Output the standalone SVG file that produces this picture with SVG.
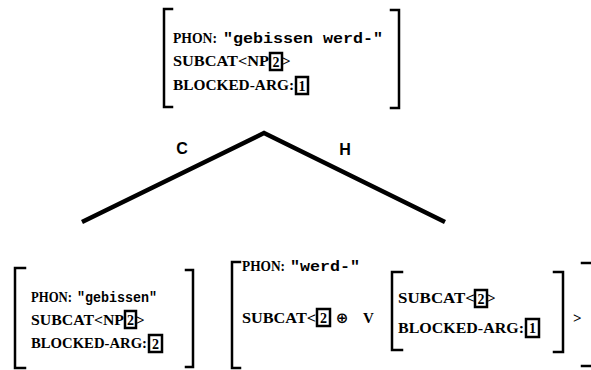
<svg xmlns="http://www.w3.org/2000/svg" width="591" height="370" viewBox="0 0 591 370">
<style>
.br{fill:none;stroke:#000;stroke-width:2.5;stroke-linecap:square}
.t{font-family:"Liberation Serif",serif;font-weight:bold;font-size:15px;fill:#000}
.m{font-family:"Liberation Mono",monospace;font-weight:bold;font-size:14px;fill:#000}
.bx{fill:#fff;stroke:#000;stroke-width:2.5}
.n{font-family:"Liberation Serif",serif;font-weight:bold;font-size:14px;fill:#000;text-anchor:middle}
.lab{font-family:"Liberation Sans",sans-serif;font-weight:bold;font-size:16px;fill:#000;text-anchor:middle}
.edge{fill:none;stroke:#000;stroke-width:4.5;stroke-linejoin:miter}
</style>
<rect width="591" height="370" fill="#fff"/>
<g id="mother">
<path class="br" d="M172,9 H164 V107 H172"/>
<path class="br" d="M391,10 H399 V108 H391"/>
<text class="t" x="173" y="43" textLength="44" lengthAdjust="spacingAndGlyphs">PHON:</text>
<text class="m" x="223" y="43" textLength="160" lengthAdjust="spacingAndGlyphs">"gebissen werd-"</text>
<text class="t" x="173" y="66" textLength="96" lengthAdjust="spacingAndGlyphs">SUBCAT&lt;NP</text>
<rect class="bx" x="270" y="53" width="12" height="17"/>
<text class="n" x="276" y="67">2</text>
<text class="t" x="282" y="66">&gt;</text>
<text class="t" x="173" y="90" textLength="121" lengthAdjust="spacingAndGlyphs">BLOCKED-ARG:</text>
<rect class="bx" x="296" y="77" width="12" height="17"/>
<text class="n" x="302" y="91">1</text>
</g>
<g id="connectors">
<path class="edge" d="M82,222 L264,133 L445,222"/>
<text class="lab" x="182" y="154">C</text>
<text class="lab" x="345" y="155">H</text>
</g>
<g id="complement">
<path class="br" d="M25,268 H15 V368 H25"/>
<path class="br" d="M186,270 H193 V367 H186"/>
<text class="t" x="31" y="302" textLength="41" lengthAdjust="spacingAndGlyphs">PHON:</text>
<text class="m" x="77" y="302" textLength="80" lengthAdjust="spacingAndGlyphs">"gebissen"</text>
<text class="t" x="31" y="325" textLength="93" lengthAdjust="spacingAndGlyphs">SUBCAT&lt;NP</text>
<rect class="bx" x="125" y="311" width="11" height="17"/>
<text class="n" x="130.5" y="325">2</text>
<text class="t" x="136" y="325">&gt;</text>
<text class="t" x="31" y="348" textLength="116" lengthAdjust="spacingAndGlyphs">BLOCKED-ARG:</text>
<rect class="bx" x="149" y="335" width="13" height="17"/>
<text class="n" x="155.5" y="349">2</text>
</g>
<g id="head">
<path class="br" d="M240,262 H232 V368 H240"/>
<path class="br" d="M582,263 H590"/>
<path class="br" d="M582,366 H590" stroke="#999"/>
<text class="t" x="242" y="271" textLength="43" lengthAdjust="spacingAndGlyphs">PHON:</text>
<text class="m" x="290" y="271" textLength="70" lengthAdjust="spacingAndGlyphs">"werd-"</text>
<text class="t" x="242" y="323" textLength="74" lengthAdjust="spacingAndGlyphs">SUBCAT&lt;</text>
<rect class="bx" x="317" y="309" width="13" height="17"/>
<text class="n" x="323.5" y="323">2</text>
<text x="342" y="323" style="font-family:'DejaVu Sans',sans-serif;font-weight:bold;font-size:15px;text-anchor:middle">⊕</text>
<text class="t" x="363" y="323">V</text>
<path class="br" d="M402,272 H392 V350 H402"/>
<path class="br" d="M554,272 H563 V352 H554"/>
<text class="t" x="398" y="303" textLength="77" lengthAdjust="spacingAndGlyphs">SUBCAT&lt;</text>
<rect class="bx" x="475" y="290" width="12" height="17"/>
<text class="n" x="481" y="304">2</text>
<text class="t" x="487" y="303">&gt;</text>
<text class="t" x="398" y="333" textLength="126" lengthAdjust="spacingAndGlyphs">BLOCKED-ARG:</text>
<rect class="bx" x="526" y="319" width="13" height="18"/>
<text class="n" x="532.5" y="333">1</text>
<text class="t" x="573" y="323">&gt;</text>
</g>
</svg>
